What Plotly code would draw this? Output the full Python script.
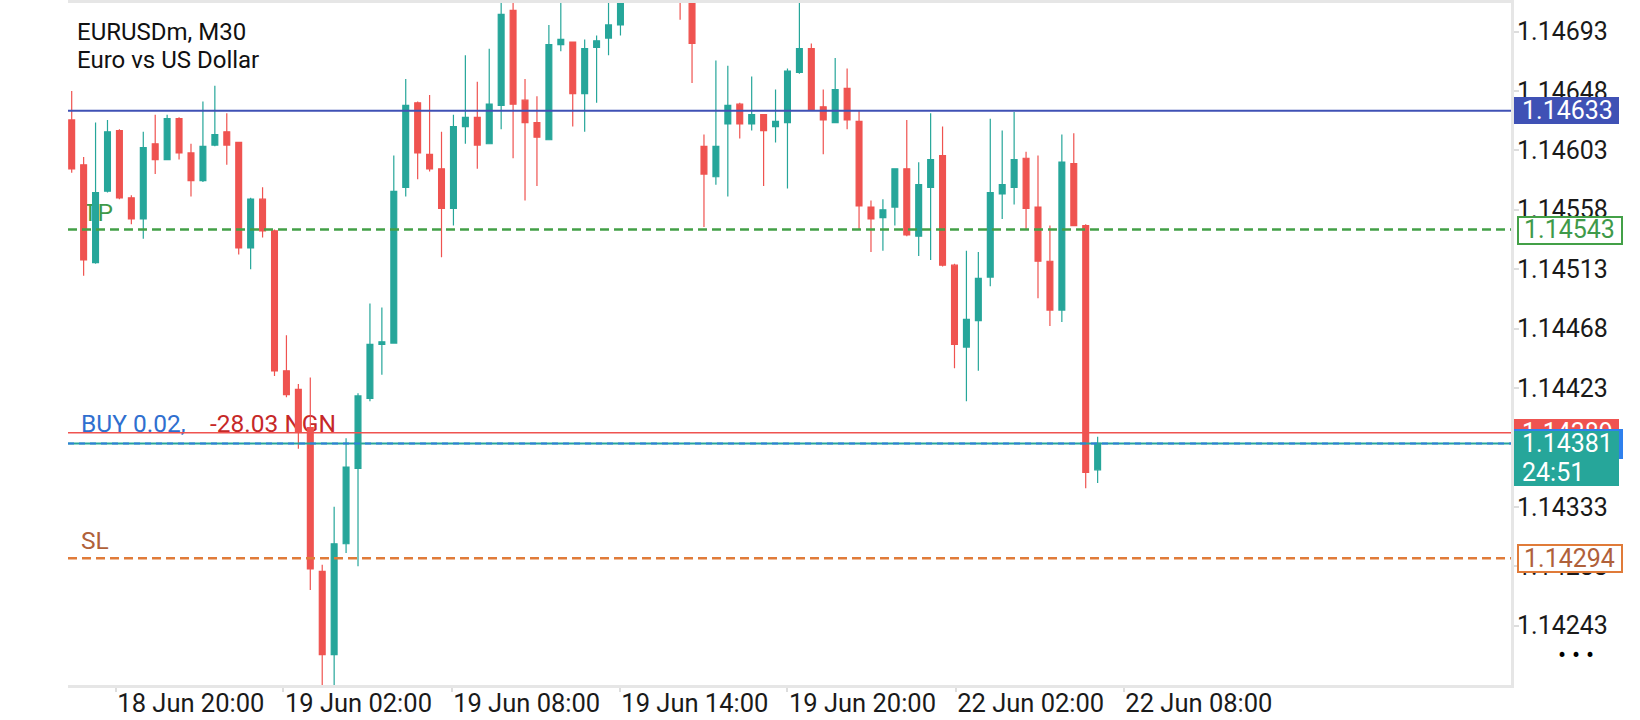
import plotly.graph_objects as go

# --- chart data (EURUSDm, M30, oldest bar first) ---
SYMBOL = "EURUSDm, M30"
DESCRIPTION = "Euro vs US Dollar"

OPEN = [1.14626, 1.14592, 1.14518, 1.14572, 1.14618, 1.14567, 1.14551, 1.14608, 1.14596, 1.14627,
        1.14601, 1.14580, 1.14607, 1.14617, 1.14609, 1.14529, 1.14566, 1.14542, 1.14436, 1.14422,
        1.14393, 1.14284, 1.14221, 1.14305, 1.14362, 1.14415, 1.14456, 1.14457, 1.14575, 1.14639,
        1.14600, 1.14589, 1.14559, 1.14621, 1.14628, 1.14608, 1.14637, 1.14709, 1.14641, 1.14624,
        1.14611, 1.14683, 1.14685, 1.14646, 1.14681, 1.14688, 1.14698, 1.14722, 1.14738, 1.14751,
        1.14734, 1.14742, 1.14726, 1.14606, 1.14583, 1.14623, 1.14638, 1.14623, 1.14630, 1.14621,
        1.14624, 1.14662, 1.14680, 1.14636, 1.14624, 1.14650, 1.14625, 1.14560, 1.14552, 1.14560,
        1.14589, 1.14538, 1.14575, 1.14599, 1.14516, 1.14454, 1.14474, 1.14507, 1.14570, 1.14575,
        1.14597, 1.14560, 1.14519, 1.14482, 1.14593, 1.14546, 1.14361]
HIGH = [1.14648, 1.14598, 1.14624, 1.14626, 1.14619, 1.14569, 1.14617, 1.14630, 1.14630, 1.14628,
        1.14608, 1.14640, 1.14652, 1.14631, 1.14609, 1.14567, 1.14575, 1.14543, 1.14463, 1.14426,
        1.14431, 1.14289, 1.14333, 1.14385, 1.14419, 1.14487, 1.14484, 1.14599, 1.14657, 1.14640,
        1.14645, 1.14617, 1.14630, 1.14675, 1.14655, 1.14680, 1.14720, 1.14722, 1.14657, 1.14644,
        1.14698, 1.14716, 1.14685, 1.14687, 1.14690, 1.14716, 1.14740, 1.14745, 1.14762, 1.14768,
        1.14752, 1.14755, 1.14740, 1.14615, 1.14671, 1.14667, 1.14639, 1.14659, 1.14630, 1.14649,
        1.14665, 1.14716, 1.14684, 1.14649, 1.14673, 1.14665, 1.14633, 1.14565, 1.14566, 1.14589,
        1.14626, 1.14594, 1.14631, 1.14621, 1.14517, 1.14527, 1.14526, 1.14627, 1.14618, 1.14632,
        1.14602, 1.14599, 1.14546, 1.14615, 1.14616, 1.14547, 1.14386]
LOW = [1.14586, 1.14508, 1.14517, 1.14571, 1.14566, 1.14547, 1.14536, 1.14585, 1.14596, 1.14596,
       1.14568, 1.14579, 1.14606, 1.14592, 1.14524, 1.14513, 1.14537, 1.14432, 1.14416, 1.14377,
       1.14270, 1.14197, 1.14196, 1.14298, 1.14288, 1.14413, 1.14433, 1.14457, 1.14568, 1.14581,
       1.14587, 1.14522, 1.14546, 1.14608, 1.14589, 1.14608, 1.14619, 1.14597, 1.14565, 1.14576,
       1.14611, 1.14678, 1.14621, 1.14617, 1.14639, 1.14675, 1.14690, 1.14720, 1.14728, 1.14730,
       1.14722, 1.14702, 1.14654, 1.14545, 1.14577, 1.14568, 1.14612, 1.14618, 1.14576, 1.14609,
       1.14574, 1.14661, 1.14634, 1.14600, 1.14624, 1.14619, 1.14543, 1.14526, 1.14527, 1.14546,
       1.14538, 1.14523, 1.14520, 1.14515, 1.14438, 1.14413, 1.14436, 1.14500, 1.14551, 1.14562,
       1.14543, 1.14491, 1.14470, 1.14473, 1.14546, 1.14347, 1.14351]
CLOSE = [1.14589, 1.14520, 1.14571, 1.14617, 1.14567, 1.14551, 1.14605, 1.14596, 1.14627, 1.14601,
         1.14580, 1.14606, 1.14615, 1.14607, 1.14529, 1.14566, 1.14542, 1.14436, 1.14418, 1.14390,
         1.14286, 1.14221, 1.14305, 1.14363, 1.14417, 1.14456, 1.14458, 1.14572, 1.14637, 1.14601,
         1.14589, 1.14559, 1.14621, 1.14628, 1.14607, 1.14638, 1.14706, 1.14638, 1.14624, 1.14613,
         1.14683, 1.14687, 1.14646, 1.14680, 1.14686, 1.14698, 1.14722, 1.14738, 1.14751, 1.14734,
         1.14743, 1.14726, 1.14684, 1.14585, 1.14606, 1.14637, 1.14623, 1.14630, 1.14618, 1.14625,
         1.14663, 1.14680, 1.14634, 1.14626, 1.14649, 1.14626, 1.14561, 1.14551, 1.14558, 1.14589,
         1.14539, 1.14577, 1.14596, 1.14516, 1.14456, 1.14475, 1.14506, 1.14571, 1.14577, 1.14596,
         1.14559, 1.14519, 1.14482, 1.14594, 1.14546, 1.14359, 1.14381]

TIME_LABELS = ["18 Jun 20:00", "19 Jun 02:00", "19 Jun 08:00", "19 Jun 14:00",
               "19 Jun 20:00", "22 Jun 02:00", "22 Jun 08:00"]
TIME_TICK_BARS = [3.7, 17.75, 31.85, 45.95, 60.0, 74.1, 88.2]

PRICE_TICKS = [1.14243, 1.14288, 1.14333, 1.14378, 1.14423, 1.14468,
               1.14513, 1.14558, 1.14603, 1.14648, 1.14693]

ALERT_LEVEL = 1.14633
TP_LEVEL = 1.14543
ENTRY_LEVEL = 1.14389
BID_LEVEL = 1.14381
SL_LEVEL = 1.14294
BAR_TIMER = "24:51"
ORDER_TEXT = "BUY 0.02,"
PROFIT_TEXT = "-28.03 NGN"

Y_RANGE = [1.141980, 1.147146]
X_RANGE = [-0.31, 120.65]

W, H = 1640, 720
M_L, M_R, M_T, M_B = 68, 129, 3, 35
PLOT_W = W - M_L - M_R
PLOT_H = H - M_T - M_B
PRICE_PER_PX = (Y_RANGE[1] - Y_RANGE[0]) / PLOT_H
BARS_PER_PX = (X_RANGE[1] - X_RANGE[0]) / PLOT_W

UP = "#26a69a"
DOWN = "#ef5350"
FONT = "Roboto"

fig = go.Figure()

# order-line captions sit under the candles, so they go on the base axes
# and the candles on an overlaid pair of axes
cap_text = ["TP", ORDER_TEXT, PROFIT_TEXT, "SL"]
cap_color = ["#3f9a4a", "#2f6fcf", "#c62828", "#b0613a"]
cap_level = [TP_LEVEL, ENTRY_LEVEL, ENTRY_LEVEL, SL_LEVEL]
cap_dx_px = [15, 13, 142, 13]
cap_dy_px = [15, 6.5, 6.5, 15.5]
fig.add_trace(go.Scatter(
    x=[X_RANGE[0] + d * BARS_PER_PX for d in cap_dx_px],
    y=[lv + d * PRICE_PER_PX for lv, d in zip(cap_level, cap_dy_px)],
    mode="text", text=cap_text, textposition="middle right",
    textfont=dict(family=FONT, size=24.5, color=cap_color),
    hoverinfo="skip",
))

fig.add_trace(go.Candlestick(
    x=list(range(len(OPEN))), open=OPEN, high=HIGH, low=LOW, close=CLOSE,
    increasing=dict(line=dict(color=UP, width=1.2), fillcolor=UP),
    decreasing=dict(line=dict(color=DOWN, width=1.2), fillcolor=DOWN),
    whiskerwidth=0, name=SYMBOL, xaxis="x2", yaxis="y2",
))


def hline(price, color, width, dash="solid"):
    fig.add_shape(type="line", xref="paper", x0=0, x1=1, yref="y", y0=price, y1=price,
                  line=dict(color=color, width=width, dash=dash), layer="above")


def box(price, fill, width, height, xshift=3, yshift=0, border=None):
    bw = 2 if border else 0
    fig.add_annotation(text=" ", xref="paper", x=1, xanchor="left", xshift=xshift,
                       yref="y", y=price, yanchor="middle", yshift=yshift,
                       width=width - 2 * bw, height=height - 2 * bw, borderpad=0,
                       bgcolor=fill, bordercolor=border or fill, borderwidth=bw,
                       showarrow=False)


def box_text(price, text, color, xshift=10, yshift=0):
    fig.add_annotation(text=text, xref="paper", x=1, xanchor="left", xshift=xshift,
                       yref="y", y=price, yanchor="middle", yshift=yshift,
                       showarrow=False, borderpad=0,
                       font=dict(family=FONT, size=25, color=color))


# order lines
hline(ALERT_LEVEL, "#3f51b5", 2)
hline(TP_LEVEL, "#43a047", 2.5, "9px,5px")
hline(ENTRY_LEVEL, "#ef5350", 1.5)
hline(BID_LEVEL, UP, 2)
hline(BID_LEVEL, "#2f80d8", 2, "6px,5px")
hline(SL_LEVEL, "#e07b39", 2.5, "9px,5px")

# price labels on the right scale (later ones cover earlier ones)
box(ALERT_LEVEL, "#3f51b5", 105, 27)
box_text(ALERT_LEVEL, f"{ALERT_LEVEL:.5f}", "white")
box(TP_LEVEL, "white", 106, 29, 5.5, -0.8, "#43a047")
box_text(TP_LEVEL, f"{TP_LEVEL:.5f}", "#3f9a4a", 12)
box(ENTRY_LEVEL, DOWN, 105, 27)
box_text(ENTRY_LEVEL, f"{ENTRY_LEVEL:.5f}", "white")
box(BID_LEVEL, "#2f80ed", 109, 30, 3, -0.6)
box(BID_LEVEL, UP, 105, 55, 3, -15.5)
box_text(BID_LEVEL, f"{BID_LEVEL:.5f}", "white", 10, -0.5)
box_text(BID_LEVEL, BAR_TIMER, "white", 10, -29.5)
box(SL_LEVEL, "white", 106, 29, 5.5, -0.7, "#e07b39")
box_text(SL_LEVEL, f"{SL_LEVEL:.5f}", "#b0613a", 12)

fig.add_annotation(text=SYMBOL, xref="paper", yref="paper", x=0, y=1, xanchor="left",
                   yanchor="middle", xshift=7, yshift=-28.5, showarrow=False,
                   font=dict(family=FONT, size=24, color="#111111"))
fig.add_annotation(text=DESCRIPTION, xref="paper", yref="paper", x=0, y=1, xanchor="left",
                   yanchor="middle", xshift=7, yshift=-56.5, showarrow=False,
                   font=dict(family=FONT, size=24, color="#111111"))
fig.add_annotation(text="• • •", xref="paper", yref="paper", x=1, y=0, xanchor="left",
                   yanchor="middle", xshift=45, yshift=30, showarrow=False,
                   font=dict(family=FONT, size=24, color="#000000"))

fig.update_layout(
    width=W, height=H,
    margin=dict(l=M_L, r=M_R, t=M_T, b=M_B),
    paper_bgcolor="white", plot_bgcolor="white",
    showlegend=False,
    font=dict(family=FONT, size=24, color="#1a1a1a"),
    xaxis=dict(range=X_RANGE, rangeslider=dict(visible=False), showgrid=False, zeroline=False,
               showline=True, mirror=True, linecolor="#e6e6e6", linewidth=3, automargin=False,
               tickmode="array", tickvals=TIME_TICK_BARS, ticktext=TIME_LABELS,
               ticks="outside", ticklen=4, tickcolor="#dddddd", tickwidth=1.5,
               ticklabelshift=75, ticklabelstandoff=-11,
               tickfont=dict(family=FONT, size=25.5, color="#1a1a1a")),
    yaxis=dict(side="right", range=Y_RANGE, showgrid=False, zeroline=False,
               showline=True, linecolor="#e6e6e6", linewidth=3, automargin=False,
               tickmode="array", tickvals=PRICE_TICKS,
               ticktext=[f"{v:.5f}" for v in PRICE_TICKS],
               ticks="outside", ticklen=5, tickcolor="#dddddd", tickwidth=1.5,
               ticklabelstandoff=-7,
               tickfont=dict(family=FONT, size=25, color="#1a1a1a")),
    xaxis2=dict(overlaying="x", range=X_RANGE, visible=False,
                rangeslider=dict(visible=False)),
    yaxis2=dict(overlaying="y", range=Y_RANGE, visible=False),
)

fig.write_html("out.html", config={"displayModeBar": False},
               post_script="document.body.style.margin='0px';")
